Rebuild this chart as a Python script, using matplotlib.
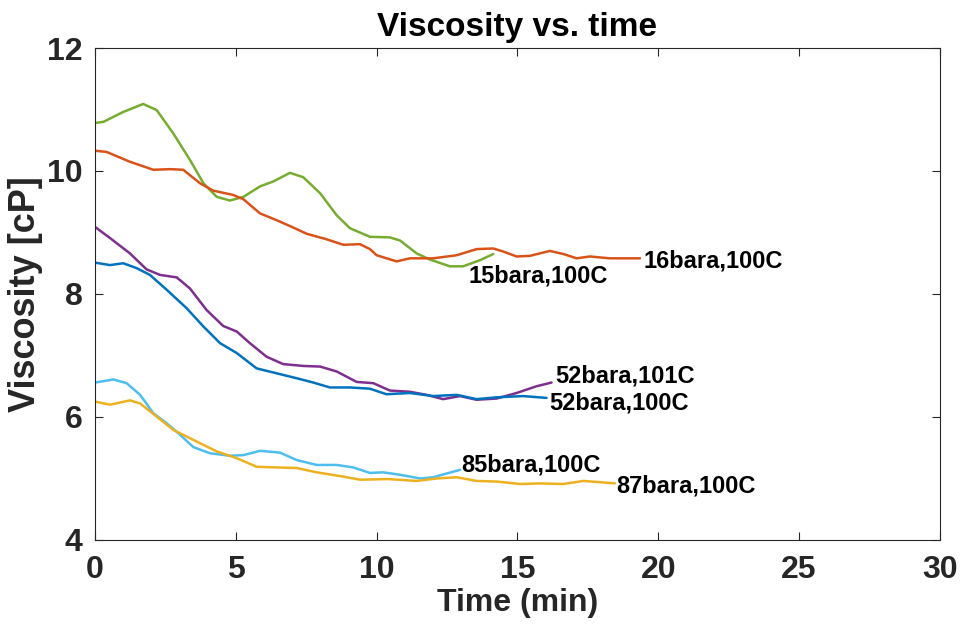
import matplotlib
matplotlib.use("Agg")
import matplotlib.pyplot as plt
from matplotlib import font_manager

names = {f.name for f in font_manager.fontManager.ttflist}
base = "Liberation Sans" if "Liberation Sans" in names else "DejaVu Sans"

# ---- data ----
t_15 = [0, 0.3, 1.0, 1.71, 2.19, 2.78, 3.37, 3.85, 4.32, 4.79, 5.27, 5.86, 6.33, 6.92, 7.39,
        7.99, 8.58, 9.05, 9.76, 10.47, 10.83, 11.42, 11.89, 12.6, 13.07, 13.67, 14.14]
v_15 = [10.78, 10.80, 10.96, 11.09, 10.99, 10.61, 10.18, 9.80, 9.58, 9.52, 9.58, 9.75, 9.83, 9.97, 9.90,
        9.64, 9.28, 9.07, 8.93, 8.92, 8.87, 8.66, 8.56, 8.45, 8.45, 8.55, 8.65]

t_16 = [0, 0.41, 1.24, 2.07, 2.66, 3.13, 3.73, 4.2, 4.91, 5.27, 5.86, 6.45, 7.04, 7.51, 8.22, 8.82,
        9.41, 9.76, 10.0, 10.71, 11.18, 12.01, 12.84, 13.55, 14.14, 14.5, 14.97, 15.44, 16.15, 16.63,
        17.1, 17.57, 18.28, 19.35]
v_16 = [10.33, 10.31, 10.15, 10.02, 10.03, 10.02, 9.80, 9.68, 9.61, 9.54, 9.31, 9.20, 9.08, 8.98, 8.89, 8.80,
        8.81, 8.73, 8.63, 8.53, 8.58, 8.58, 8.63, 8.73, 8.74, 8.69, 8.61, 8.62, 8.70, 8.65,
        8.58, 8.61, 8.58, 8.58]

t_52a = [0, 0.53, 1.24, 1.83, 2.31, 2.9, 3.37, 3.96, 4.55, 5.03, 5.5, 6.09, 6.68, 7.39, 7.99, 8.58,
         9.29, 9.88, 10.47, 11.18, 11.77, 12.36, 12.96, 13.55, 14.26, 14.97, 15.68, 16.21]
v_52a = [9.09, 8.91, 8.66, 8.40, 8.31, 8.27, 8.09, 7.74, 7.48, 7.39, 7.20, 6.98, 6.86, 6.83, 6.82, 6.74,
         6.57, 6.55, 6.43, 6.41, 6.36, 6.29, 6.34, 6.28, 6.30, 6.39, 6.50, 6.56]

t_52b = [0, 0.53, 1.0, 1.48, 1.95, 2.54, 3.25, 3.85, 4.44, 5.03, 5.74, 6.45, 7.16, 7.75, 8.34, 9.05,
         9.76, 10.35, 11.18, 12.01, 12.84, 13.55, 14.26, 15.2, 16.03]
v_52b = [8.51, 8.47, 8.50, 8.42, 8.31, 8.07, 7.77, 7.47, 7.20, 7.04, 6.79, 6.71, 6.63, 6.56, 6.48, 6.48,
         6.46, 6.37, 6.39, 6.34, 6.36, 6.29, 6.32, 6.34, 6.31]

t_85 = [0, 0.65, 1.12, 1.6, 2.07, 2.54, 3.02, 3.49, 4.08, 4.79, 5.27, 5.86, 6.57, 7.16, 7.87, 8.58,
        9.17, 9.76, 10.23, 10.83, 11.54, 12.01, 12.48, 12.96]
v_85 = [6.56, 6.61, 6.55, 6.36, 6.06, 5.90, 5.71, 5.51, 5.41, 5.37, 5.38, 5.45, 5.42, 5.30, 5.22, 5.22,
        5.18, 5.09, 5.10, 5.06, 5.00, 5.02, 5.08, 5.14]

t_87 = [0, 0.53, 1.24, 1.6, 2.07, 2.78, 3.61, 4.32, 5.03, 5.74, 6.45, 7.16, 7.87, 8.82, 9.41, 10.41,
        11.42, 12.13, 12.84, 13.55, 14.26, 15.09, 15.8, 16.63, 17.34, 17.93, 18.46]
v_87 = [6.25, 6.20, 6.27, 6.22, 6.05, 5.79, 5.60, 5.44, 5.33, 5.19, 5.18, 5.17, 5.10, 5.03, 4.98, 4.99,
        4.96, 5.00, 5.02, 4.96, 4.95, 4.91, 4.92, 4.91, 4.96, 4.94, 4.92]

labels = ["15bara,100C", "16bara,100C", "52bara,101C", "52bara,100C", "85bara,100C", "87bara,100C"]
label_x = [13.25, 19.46, 16.33, 16.12, 13.0, 18.52]
label_y = [8.29, 8.53, 6.67, 6.22, 5.22, 4.87]

series = [(t_15, v_15, "#77AC30"), (t_16, v_16, "#D95319"), (t_52a, v_52a, "#7E2F8E"),
          (t_52b, v_52b, "#0072BD"), (t_85, v_85, "#4DBEEE"), (t_87, v_87, "#EDB120")]

fig = plt.figure(figsize=(9.63, 6.30), dpi=100)
ax = fig.add_axes([0.0987, 0.1429, 0.8773, 0.7809])

for (t, v, c) in series:
    ax.plot(t, v, color=c, lw=1.8, solid_joinstyle="round", solid_capstyle="round")

for lab, lx, ly in zip(labels, label_x, label_y):
    ax.text(lx, ly, lab, fontsize=17, fontweight="bold", family=base, va="center", ha="left",
            color="black")

ax.set_xlim(0, 30)
ax.set_ylim(4, 12)
ax.set_xticks([0, 5, 10, 15, 20, 25, 30])
ax.set_yticks([4, 6, 8, 10, 12])
ax.tick_params(direction="in", length=6, width=0.8, top=True, right=True, colors="#262626",
               labelcolor="#262626")
ax.tick_params(axis="x", pad=11)
ax.tick_params(axis="y", pad=9)
for lbl in ax.get_xticklabels() + ax.get_yticklabels():
    lbl.set_fontfamily(base)
    lbl.set_fontweight("bold")
    lbl.set_fontsize(23)
for s in ax.spines.values():
    s.set_color("#262626")
    s.set_linewidth(0.8)

ax.set_xlabel("Time (min)", fontsize=23, fontweight="bold", family=base, color="#262626", labelpad=2)
ax.set_ylabel("Viscosity [cP]", fontsize=26, fontweight="bold", family=base, color="#262626", labelpad=3)
ax.set_title("Viscosity vs. time", fontsize=24, fontweight="bold", family=base, color="black", pad=9)

fig.savefig("out.png", dpi=100)
